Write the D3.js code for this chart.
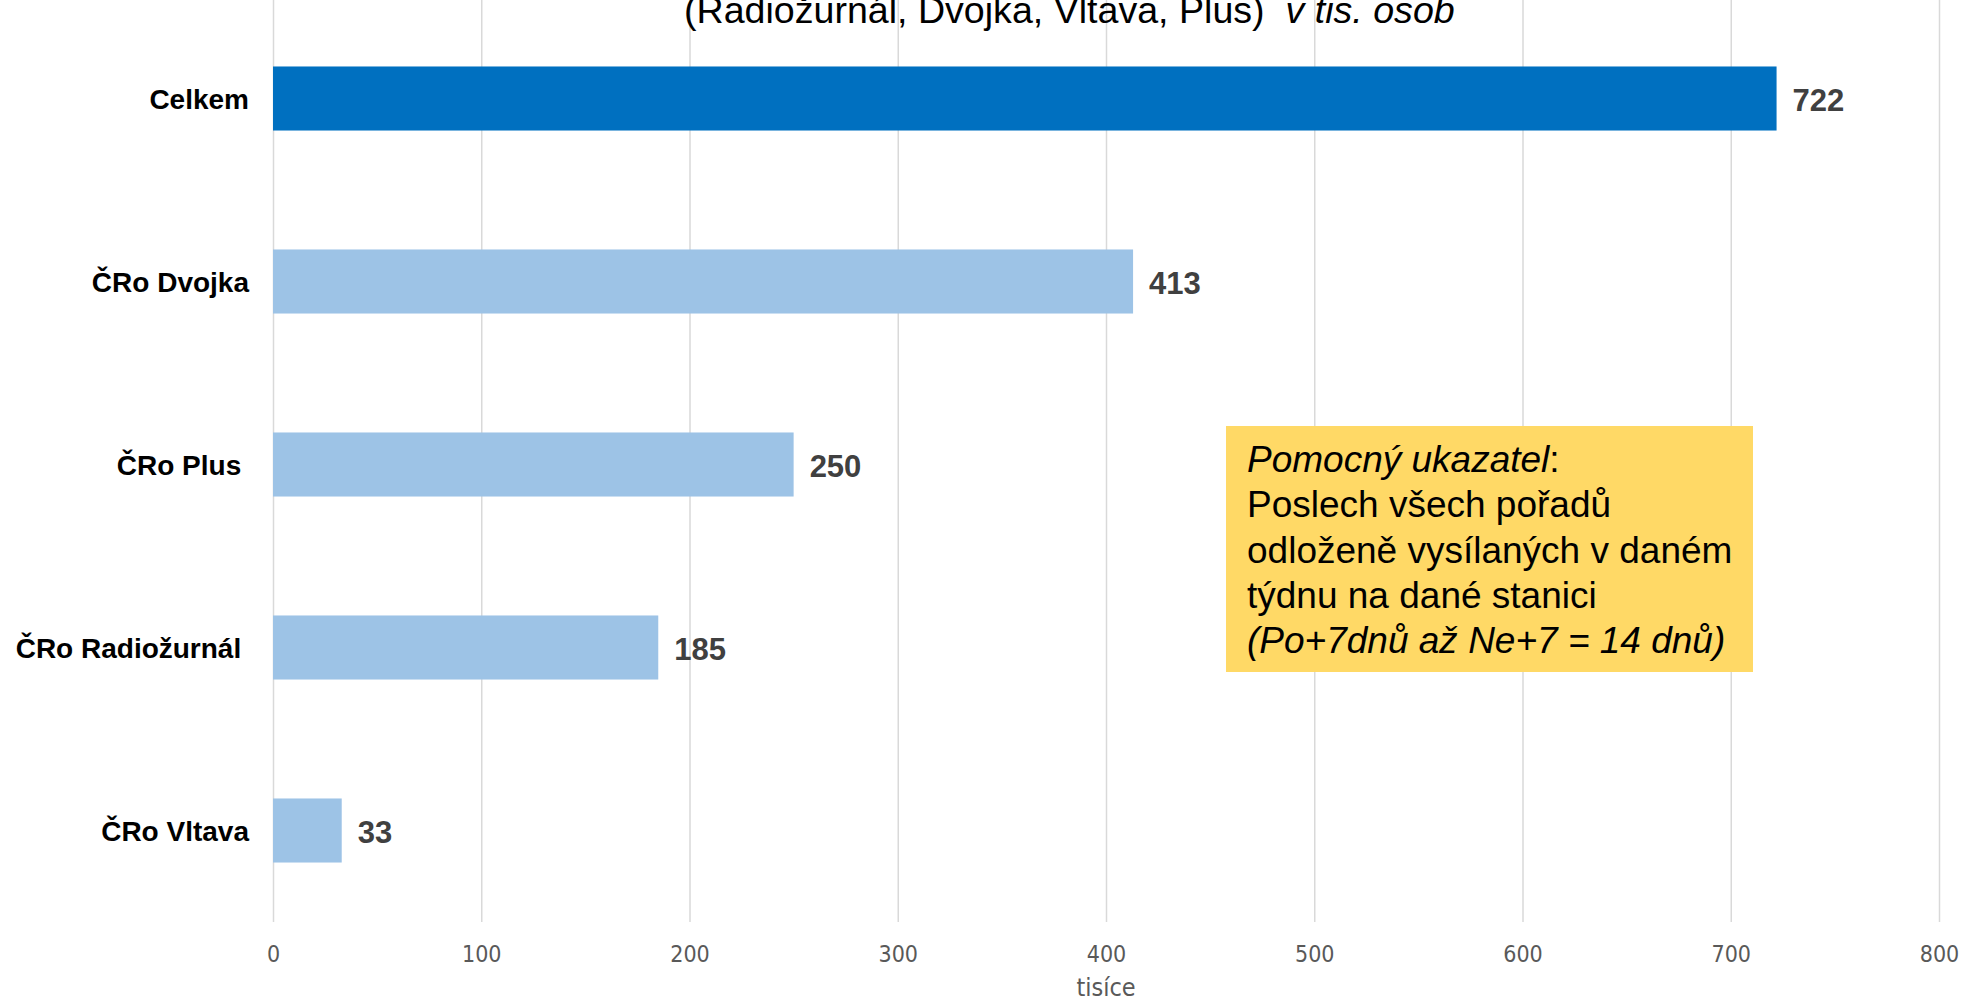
<!DOCTYPE html>
<html>
<head>
<meta charset="utf-8">
<script src="https://cdn.jsdelivr.net/npm/d3@7"></script>
<style>
  html, body { margin: 0; padding: 0; background: #fff; }
  svg text { white-space: pre; }
  .tick text { font-family: "DejaVu Sans Condensed", "DejaVu Sans", sans-serif; font-stretch: condensed; fill: #595959; }
</style>
</head>
<body>
<div id="chart-area"><svg></svg></div>
<script>
const stations = ['Celkem', 'ČRo Dvojka', 'ČRo Plus ', 'ČRo Radiožurnál ', 'ČRo Vltava'];
const listeners = [722, 413, 250, 185, 33];
const xTicks = [0, 100, 200, 300, 400, 500, 600, 700, 800];
const titleParts = ['(Radiožurnál, Dvojka, Vltava, Plus)  ', 'v tis. osob'];
const noteLines = [
  [['Pomocný ukazatel', true], [':', false]],
  [['Poslech všech pořadů', false]],
  [['odloženě vysílaných v daném', false]],
  [['týdnu na dané stanici', false]],
  [['(Po+7dnů až Ne+7 = 14 dnů)', true]]
];

const chartSize = { width: 1972, height: 1005 };
const plot = { left: 273, right: 1939, top: 7, bottom: 922 };

const main = () => {
  const svg = d3.select('#chart-area svg')
    .attr('width', chartSize.width)
    .attr('height', chartSize.height);

  const x = d3.scaleLinear().domain([0, 800]).range([plot.left, plot.right]);
  const y = d3.scaleBand()
    .domain(stations)
    .range([plot.top, plot.bottom])
    .paddingInner(0.65)
    .paddingOuter(0.325);

  // gridlines + tick labels
  const xAxis = d3.axisBottom(x)
    .tickValues(xTicks)
    .tickSize(-plot.bottom)
    .tickPadding(24);

  const gx = svg.append('g')
    .attr('transform', `translate(0,${plot.bottom})`)
    .call(xAxis);
  gx.select('.domain').remove();
  gx.selectAll('.tick line').attr('stroke', '#d9d9d9').attr('stroke-width', 1.5);
  gx.selectAll('.tick text').attr('font-size', 23);

  svg.append('text')
    .attr('x', (plot.left + plot.right) / 2)
    .attr('y', 996)
    .attr('text-anchor', 'middle')
    .attr('font-family', '"DejaVu Sans Condensed", "DejaVu Sans", sans-serif')
    .attr('font-stretch', 'condensed')
    .attr('font-size', 25)
    .attr('fill', '#595959')
    .text('tisíce');

  // title (cut off at top, as in the original)
  const title = svg.append('text')
    .attr('x', 684)
    .attr('y', 23)
    .attr('font-family', '"Liberation Sans", Arial, sans-serif')
    .attr('font-size', 37.6)
    .attr('fill', '#000');
  title.append('tspan').text(titleParts[0]);
  title.append('tspan').attr('font-style', 'italic').text(titleParts[1]);

  const data = stations.map((s, i) => ({ name: s, value: listeners[i] }));

  svg.selectAll('rect.bar').data(data).enter()
    .append('rect')
    .attr('class', 'bar')
    .attr('x', x(0))
    .attr('y', d => y(d.name))
    .attr('width', d => x(d.value) - x(0))
    .attr('height', y.bandwidth())
    .attr('fill', (d, i) => i === 0 ? '#0070C0' : '#9DC3E6');

  svg.selectAll('text.cat').data(data).enter()
    .append('text')
    .attr('class', 'cat')
    .attr('x', 249)
    .attr('y', d => y(d.name) + y.bandwidth() / 2 + 10)
    .attr('text-anchor', 'end')
    .attr('font-family', '"Liberation Sans", Arial, sans-serif')
    .attr('font-weight', 'bold')
    .attr('font-size', 28)
    .attr('fill', '#000')
    .text(d => d.name);

  svg.selectAll('text.val').data(data).enter()
    .append('text')
    .attr('class', 'val')
    .attr('x', d => x(d.value) + 16)
    .attr('y', d => y(d.name) + y.bandwidth() / 2 + 12)
    .attr('font-family', '"Liberation Sans", Arial, sans-serif')
    .attr('font-weight', 'bold')
    .attr('font-size', 31)
    .attr('fill', '#404040')
    .text(d => d.value);

  // annotation box
  const note = svg.append('g');
  note.append('rect')
    .attr('x', 1226)
    .attr('y', 426)
    .attr('width', 527)
    .attr('height', 246)
    .attr('fill', '#FFD966');
  const noteText = note.append('text')
    .attr('font-family', '"Liberation Sans", Arial, sans-serif')
    .attr('font-size', 37)
    .attr('fill', '#000');
  noteLines.forEach((parts, i) => {
    parts.forEach(([t, it], j) => {
      const ts = noteText.append('tspan').text(t);
      if (j === 0) ts.attr('x', 1247).attr('y', 472 + i * 45.3);
      if (it) ts.attr('font-style', 'italic');
    });
  });
};
window.onload = main;
</script>
</body>
</html>
